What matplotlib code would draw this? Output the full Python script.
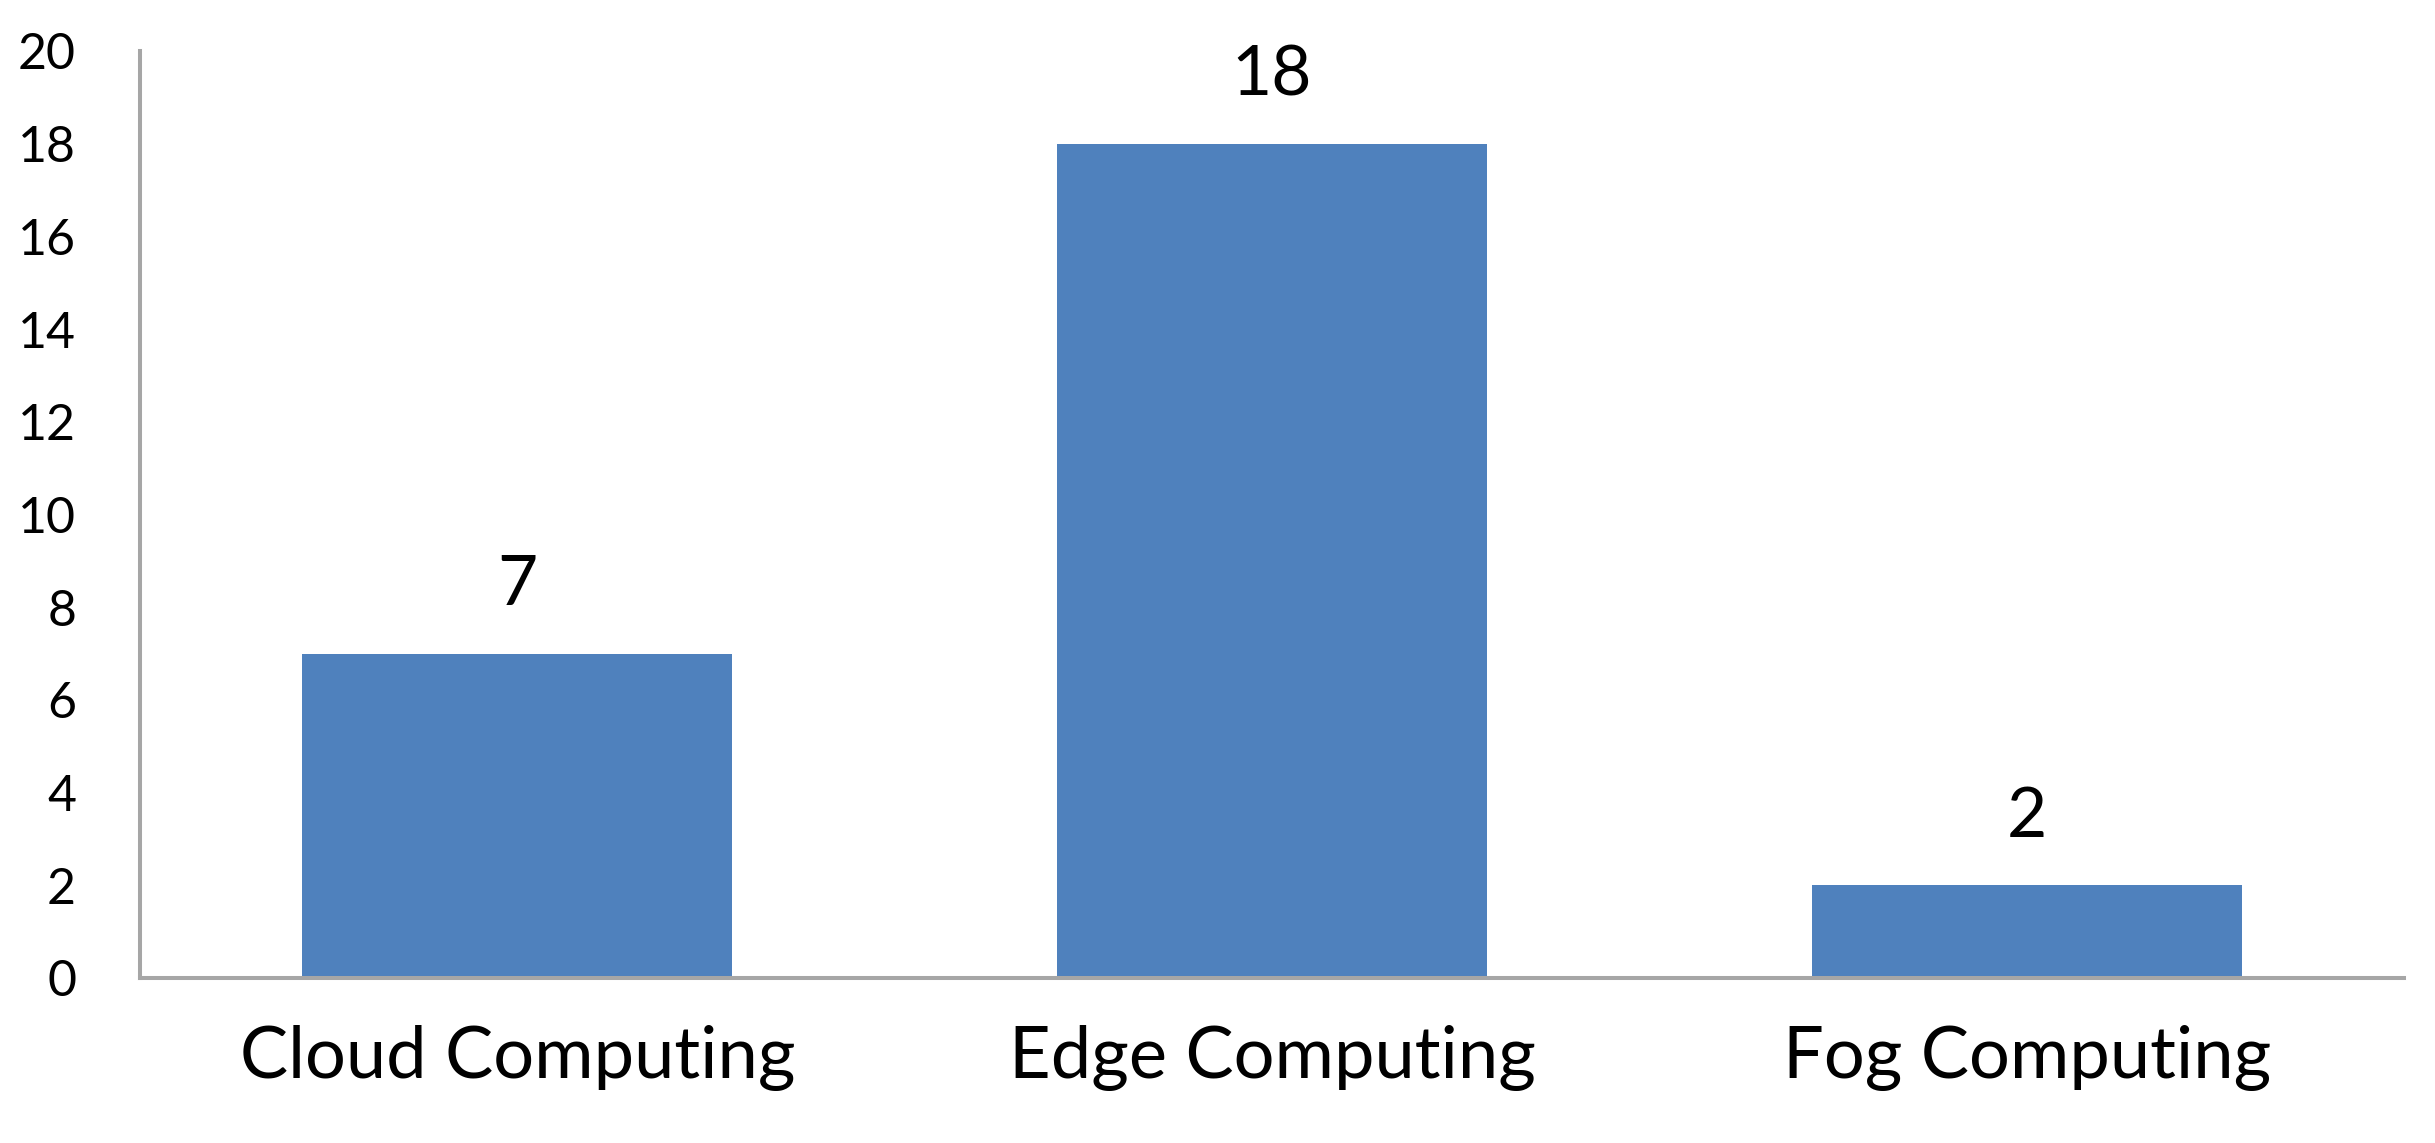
import matplotlib
matplotlib.use("Agg")
import matplotlib.pyplot as plt

# data
categories = ["Cloud Computing", "Edge Computing", "Fog Computing"]
counts = [7, 18, 2]
y_ticks = [0, 2, 4, 6, 8, 10, 12, 14, 16, 18, 20]

plt.rcParams['font.family'] = ['Lato', 'DejaVu Sans']

fig = plt.figure(figsize=(24.35, 11.43), dpi=100)
ax = fig.add_axes([0.0575, 0.1444, 0.9298, 0.811])

x = range(len(categories))
bars = ax.bar(x, counts, width=0.57, color='#4F81BD')

# value labels above the bars
for b, v in zip(bars, counts):
    ax.annotate(str(v), (b.get_x() + b.get_width() / 2, b.get_height()),
                xytext=(0, 35), textcoords='offset points',
                ha='center', va='baseline', fontsize=50)

ax.set_xlim(-0.5, len(categories) - 0.5)
ax.set_ylim(0, 20)
ax.set_yticks(y_ticks)
ax.set_xticks(list(x))
ax.set_xticklabels(categories)

ax.tick_params(axis='y', length=0, pad=46, labelsize=36)
ax.tick_params(axis='x', length=0, pad=34, labelsize=52)

for s in ['top', 'right']:
    ax.spines[s].set_visible(False)
for s in ['left', 'bottom']:
    ax.spines[s].set_color('#A6A6A6')
    ax.spines[s].set_linewidth(2.9)

fig.savefig('out.png', dpi=100)
